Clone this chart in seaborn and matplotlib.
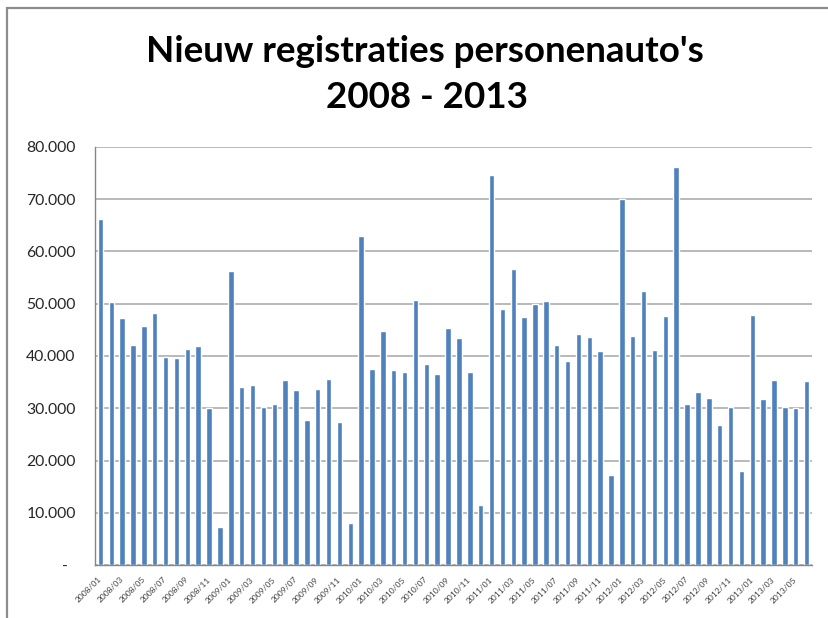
import numpy as np
import pandas as pd
import matplotlib.pyplot as plt
import matplotlib.patches as patches
import seaborn as sns

# Monthly new passenger car registrations
years = [2008, 2009, 2010, 2011, 2012, 2013]
reg_2008 = [66300, 50400, 47200, 42200, 45700, 48200, 39900, 39600, 41300, 41900, 30000, 7200]
reg_2009 = [56200, 34000, 34400, 30300, 30800, 35400, 33400, 27800, 33600, 35600, 27400, 8100]
reg_2010 = [62900, 37600, 44700, 37400, 36900, 50800, 38400, 36500, 45400, 43400, 36900, 11500]
reg_2011 = [74700, 49000, 56600, 47500, 49900, 50600, 42100, 39100, 44300, 43600, 41000, 17300]
reg_2012 = [70000, 43900, 52400, 41100, 47700, 76100, 30900, 33100, 32000, 26800, 30200, 18000]
reg_2013 = [47900, 31700, 35400, 30300, 30000, 35300]

values = reg_2008 + reg_2009 + reg_2010 + reg_2011 + reg_2012 + reg_2013
months = [f"{y}/{m:02d}" for y in years for m in range(1, 13)][:len(values)]

y_ticks = [0, 10000, 20000, 30000, 40000, 50000, 60000, 70000, 80000]
y_labels = ['-  ', '10.000', '20.000', '30.000', '40.000', '50.000', '60.000', '70.000', '80.000']

df = pd.DataFrame({'Maand': months, 'Registraties': values})

sns.set_style('white')
plt.rcParams['font.family'] = ['Lato', 'DejaVu Sans']

fig = plt.figure(figsize=(8.29, 6.18), dpi=100)
ax = fig.add_axes([95 / 829, 1 - 565 / 618, (812 - 95) / 829, (565 - 147) / 618])

sns.barplot(data=df, x='Maand', y='Registraties', color='#4F81BD', saturation=1,
            width=0.5, ax=ax)

ax.set_xlim(-0.5, len(values) - 0.5)
ax.set_ylim(0, 80000)
ax.set_yticks(y_ticks)
ax.set_yticklabels(y_labels, fontsize=13, color='#262626')
ax.yaxis.grid(True, color='#a6a6a6', linewidth=1.1)
ax.set_axisbelow(True)

ax.set_xticks(range(len(months)))
ax.set_xticklabels([m if i % 2 == 0 else '' for i, m in enumerate(months)],
                   fontsize=6.1, color='#404040', rotation=45, ha='right', va='center',
                   rotation_mode='anchor')
ax.tick_params(axis='x', length=0, pad=9.5)
ax.tick_params(axis='y', length=0, pad=14)
ax.set_xlabel('')
ax.set_ylabel('')

for side in ['top', 'right']:
    ax.spines[side].set_visible(False)
for side in ['left', 'bottom']:
    ax.spines[side].set_color('#868686')
    ax.spines[side].set_linewidth(1.0)

# Title in two lines
t1 = fig.text(425 / 829, 1 - 52 / 618, "Nieuw registraties personenauto's", ha='center', va='center',
              fontsize=28, fontweight='bold', color='black')
t2 = fig.text(427 / 829, 1 - 98 / 618, "2008 - 2013", ha='center', va='center',
              fontsize=28, fontweight='bold', color='black')

# fit title and y labels to the widths measured in the reference
fig.canvas.draw()
r = fig.canvas.get_renderer()
scale = 560 / t1.get_window_extent(r).width
t1.set_fontsize(28 * scale)
t2.set_fontsize(28 * scale)
lab = ax.get_yticklabels()[-1]
ysize = 13 * 49 / lab.get_window_extent(r).width
for lab in ax.get_yticklabels():
    lab.set_fontsize(ysize)

# Outer chart frame
frame = patches.Rectangle((7.5 / 829, -0.05), 1.1, 1.05 - 7.5 / 618, transform=fig.transFigure,
                          fill=False, edgecolor='#8c8c8c', linewidth=1.6, clip_on=False)
fig.patches.append(frame)

fig.savefig('out.png', dpi=100)
